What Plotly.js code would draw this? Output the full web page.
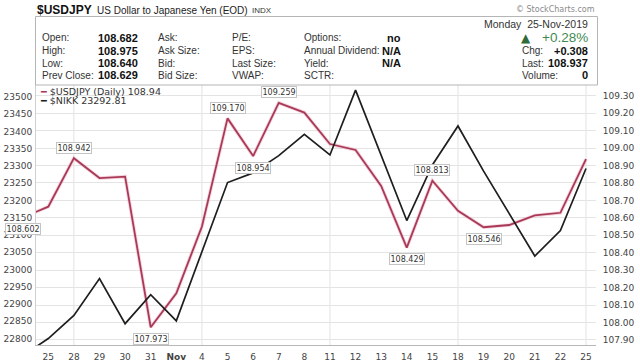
<!DOCTYPE html>
<html><head><meta charset="utf-8">
<script src="https://cdn.plot.ly/plotly-3.0.1.min.js"></script>
<style>html,body{margin:0;padding:0;background:#fff;}#chart{width:640px;height:361px;}</style>
</head><body><div id="chart"></div>
<script>
// ---- data ----
const days = ['24','25','28','29','30','31','Nov','4','5','6','7','8','11','12','13','14','15','18','19','20','21','22','25'];
const weekdays = ['Thu','Fri','Mon','Tue','Wed','Thu','Fri','Mon','Tue','Wed','Thu','Fri','Mon','Tue','Wed','Thu','Fri','Mon','Tue','Wed','Thu','Fri','Mon'];
const usdjpy = [108.602,108.664,108.942,108.828,108.836,107.973,108.168,108.55,109.170,108.954,109.259,109.203,109.023,108.989,108.783,108.429,108.813,108.640,108.546,108.559,108.614,108.629,108.937];
const nikk = [22750,22800,22867,22974,22843,22927,22851,null,23252,23280,23330,23392,23332,23520,23330,23142,23303,23416,23285,23160,23039,23113,23292.81];
const labeledIdx = [0,2,5,8,9,10,15,16,18];
const labeledPos = ['below','above','below','above','below','above','below','above','below'];
const openHighLowPrev = [['Open:','108.682'],['High:','108.975'],['Low:','108.640'],['Prev Close:','108.629']];
const col2 = ['Ask:','Ask Size:','Bid:','Bid Size:'];
const col3 = ['P/E:','EPS:','Last Size:','VWAP:'];
const col4 = [['Options:','no'],['Annual Dividend:','N/A'],['Yield:','N/A'],['SCTR:','']];

// ---- geometry helpers (pixel -> paper) ----
const L=36, R=596, T=85, B=345;
const px = x => (x-L)/(R-L);
const py = y => (B-y)/(B-T);

const xs = days.map((d,i)=>i-1);
const xr = [-0.48, 21.39];

const traces = [
  {x:xs, y:usdjpy, type:'scatter', mode:'lines', yaxis:'y', line:{color:'rgba(236,165,185,0.45)', width:3.6}, hoverinfo:'skip'},
  {x:xs, y:usdjpy, type:'scatter', mode:'lines', yaxis:'y', line:{color:'#a83a57', width:1.8}},
  {x:xs, y:nikk, type:'scatter', mode:'lines', yaxis:'y2', connectgaps:true, line:{color:'#1e1e1e', width:1.7}}
];

const ann = [];
const shapes = [];
// value labels
labeledIdx.forEach((i,k)=>{
  const xv = Math.max(xs[i], xr[0]);
  ann.push({x:xv, y:usdjpy[i], xref:'x', yref:'y', text:usdjpy[i].toFixed(3), showarrow:false,
    xshift:(xs[i]-xv)*25.6, yshift: labeledPos[k]==='above'?10.5:-11.5,
    bgcolor:'#fff', bordercolor:'#c4c4c4', borderwidth:1, borderpad:0.5,
    font:{family:'DejaVu Sans', size:8, color:'#333'}});
});
// legend
const lastU = usdjpy[usdjpy.length-1], lastN = nikk[nikk.length-1];
ann.push({xref:'paper', yref:'paper', x:px(38), y:py(91), xanchor:'left', yanchor:'middle', showarrow:false,
  text:"<span style='color:#a83a57'>━</span> $USDJPY (Daily) "+lastU.toFixed(2), font:{family:'DejaVu Sans', size:9.5, color:'#333'}});
ann.push({xref:'paper', yref:'paper', x:px(38), y:py(100.5), xanchor:'left', yanchor:'middle', showarrow:false,
  text:"<span style='color:#1e1e1e'>━</span> $NIKK "+lastN.toFixed(2), font:{family:'DejaVu Sans', size:9.5, color:'#333'}});

// header
const H = (x,y,text,opts={}) => ann.push(Object.assign({xref:'paper', yref:'paper', x:px(x), y:py(y), xanchor:'left', yanchor:'middle', showarrow:false, text:text,
  font:{family:'Liberation Sans, Arial', size:10, color:'#333'}}, opts));
H(35,10,'<b>$USDJPY</b>',{font:{family:'Liberation Sans, Arial', size:12, color:'#111'}});
H(95,10.5,'US Dollar to Japanese Yen (EOD)',{font:{family:'Liberation Sans, Arial', size:10, color:'#222'}});
H(250,11,'INDX',{font:{family:'Liberation Sans, Arial', size:8, color:'#333'}});
H(597,9.5,'© StockCharts.com',{xanchor:'right', font:{family:'DejaVu Sans', size:8, color:'#8a8a8a'}});
const rows=[38,50.5,63,75.5];
rows.forEach((y,r)=>{
  H(40,y,openHighLowPrev[r][0]);
  H(140,y,'<b>'+openHighLowPrev[r][1]+'</b>',{xanchor:'right', font:{family:'Liberation Sans, Arial', size:11, color:'#111'}});
  H(156,y,col2[r]);
  H(230,y,col3[r]);
  H(302,y,col4[r][0]);
  if(col4[r][1]) H(403,y,'<b>'+col4[r][1]+'</b>',{xanchor:'right', font:{family:'Liberation Sans, Arial', size:11, color:'#111'}});
});
const prev = usdjpy[usdjpy.length-2];
const chg = lastU-prev, pct = chg/prev*100;
H(590,24,'Monday&nbsp;&nbsp;25-Nov-2019',{xanchor:'right', font:{family:'Liberation Sans, Arial', size:10.5, color:'#333'}});
H(519,38,'▲',{font:{family:'DejaVu Sans', size:12, color:'#2f6b3a'}});
H(590,37.5,(chg>=0?'+':'')+pct.toFixed(2)+'%',{xanchor:'right', font:{family:'Liberation Sans, Arial', size:13.5, color:'#3f8a4f'}});
H(520,50.5,'Chg:');
H(590,50.5,'<b>'+(chg>=0?'+':'')+chg.toFixed(3)+'</b>',{xanchor:'right', font:{family:'Liberation Sans, Arial', size:11, color:'#111'}});
H(520,63,'Last:');
H(590,63,'<b>'+lastU.toFixed(3)+'</b>',{xanchor:'right', font:{family:'Liberation Sans, Arial', size:11, color:'#111'}});
H(520,75.5,'Volume:');
H(590,75.5,'<b>0</b>',{xanchor:'right', font:{family:'Liberation Sans, Arial', size:11, color:'#111'}});

shapes.push({type:'rect', xref:'paper', yref:'paper', x0:px(35.5), x1:px(597.5), y0:py(16.5), y1:py(85), line:{color:'#b5b5b5', width:1}, layer:'above'});
// weekly vertical gridlines
weekdays.forEach((w,i)=>{ if(w==='Mon') shapes.push({type:'line', xref:'x', yref:'paper', x0:xs[i], x1:xs[i], y0:0, y1:1, line:{color:'#e2e2e2', width:1}, layer:'below'}); });

const layout = {
  width:640, height:361, margin:{l:L, r:640-R, t:T, b:361-B, pad:0},
  paper_bgcolor:'#fff', plot_bgcolor:'#fff', showlegend:false,
  font:{family:'DejaVu Sans', size:9, color:'#444'},
  xaxis:{range:xr, tickmode:'array', tickvals:xs.slice(1), ticktext:days.slice(1).map(d=>d==='Nov'?'<b>Nov</b>':d),
    showgrid:false, zeroline:false, showline:true, linecolor:'#b8b8b8', ticks:'outside', ticklen:3, tickcolor:'rgba(0,0,0,0)',
    tickfont:{family:'DejaVu Sans', size:9, color:'#444'}},
  yaxis:{side:'right', range:[107.8713,109.3613], tickmode:'linear', tick0:107.9, dtick:0.1, tickformat:'.2f',
    showgrid:true, gridcolor:'#e4e4e4', zeroline:false, showline:false, ticks:'outside', ticklen:4, tickcolor:'rgba(0,0,0,0)',
    tickfont:{family:'DejaVu Sans', size:9, color:'#444'}},
  yaxis2:{side:'left', overlaying:'y', range:[22781.2,23534.8], tickmode:'linear', tick0:22800, dtick:50, tickformat:'d',
    showgrid:false, zeroline:false, showline:true, linecolor:'#cfcfcf', ticks:'outside', ticklen:1, tickcolor:'rgba(0,0,0,0)',
    tickfont:{family:'DejaVu Sans', size:9, color:'#444'}},
  annotations:ann, shapes:shapes
};
Plotly.newPlot('chart', traces, layout, {displayModeBar:false, staticPlot:true});
</script></body></html>
